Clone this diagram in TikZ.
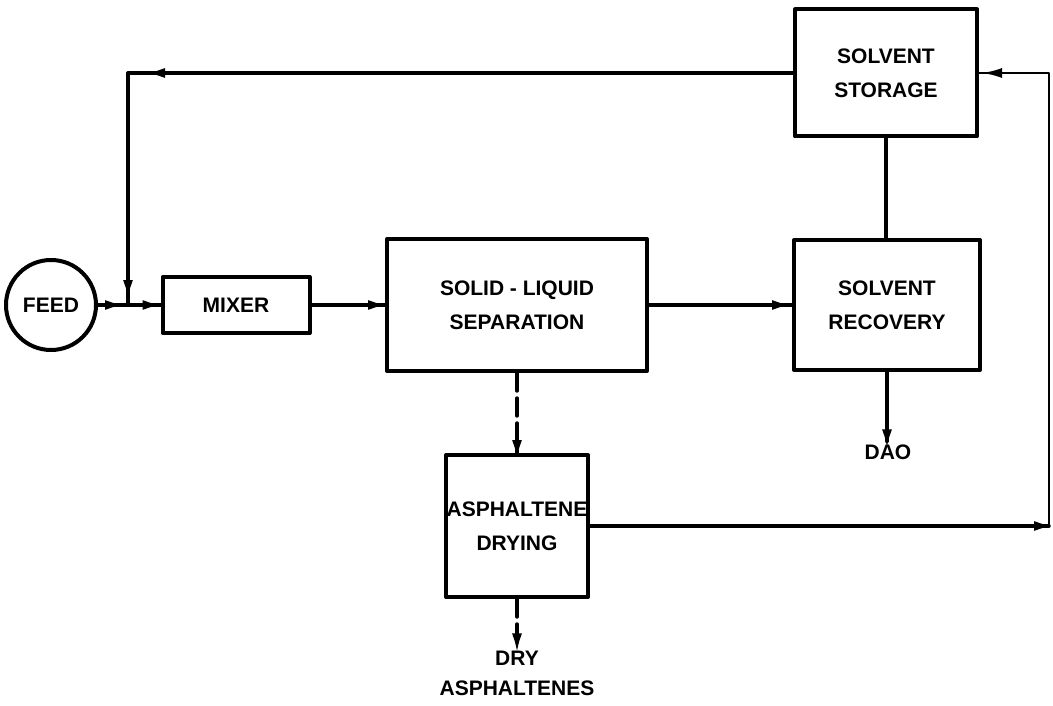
\documentclass[tikz,border=0pt]{standalone}
\usepackage{fontspec}
\setsansfont{Liberation Sans}
\usetikzlibrary{arrows.meta,decorations.markings,positioning}
\newcommand\labfont{\sffamily\bfseries\fontsize{21}{34}\selectfont}

\begin{document}
\begin{tikzpicture}[x=1pt,y=-1pt,line cap=round,line join=round,
 unit/.style={draw,line width=4pt,align=center,font=\labfont,inner sep=0pt},
 outtext/.style={font=\labfont,align=center,inner sep=3pt},
 stream/.style={line width=3.4pt},
 dashstream/.style={line width=3.4pt,dash pattern=on 18pt off 7pt},
 tipat/.style={postaction={decorate},decoration={markings,
  mark=at position #1 with {\arrow[xshift=10pt]{Latex[length=20pt,width=10pt]}}}}]
\useasboundingbox (0,0) rectangle (1053,706);
% Anlage: Zulauf links, Rueckfuehrung des Loesungsmittels oben und rechts
\node[unit,circle,minimum size=90pt] (feed) at (51,305) {FEED};
\node[unit,minimum width=147pt,minimum height=56pt] (mixer) at (236,305) {MIXER};
\node[unit,minimum width=260pt,minimum height=132pt] (sep) at (517,305) {SOLID - LIQUID\\SEPARATION};
\node[unit,minimum width=186pt,minimum height=130pt] (recovery) at (887,305) {SOLVENT\\RECOVERY};
\node[unit,minimum width=182pt,minimum height=127pt] (storage) at (886,73) {SOLVENT\\STORAGE};
\node[unit,minimum width=142pt,minimum height=142pt] (drying) at (517,526) {ASPHALTENE\\DRYING};
\node[outtext] (dao) at (888,452) {DAO};
\node[outtext] (dry) at (517,673) {DRY\\[-4pt]ASPHALTENES};
\coordinate (join) at (128,305);
\coordinate (corner) at (join |- storage.west);
\coordinate (rim) at (1049,0);
% Hauptstrom
\draw[stream,tipat=-13pt] (feed) -- (join);
\draw[stream,tipat=-8pt] (join) -- (mixer);
\draw[stream,tipat=-7pt] (mixer) -- (sep);
\draw[stream,tipat=-10pt] (sep) -- (recovery);
\draw[stream] (storage.south) -- (storage.south |- recovery.north);
\draw[stream,tipat=-2pt] (recovery.south) -- (recovery.south |- dao.north);
\draw[dashstream,tipat=-3pt] (sep.south) -- (drying.north);
\draw[dashstream,tipat=-4pt] (drying.south) -- (dry.north);
% Rueckfuehrung
\draw[stream,tipat=-27pt] (storage.west) -- (corner);
\draw[stream,tipat=-15pt] (corner) -- (join);
\draw[stream,tipat=-5pt] (drying.east) -- (drying.east -| rim);
\draw[line width=2.4pt,tipat=-13pt] (drying.east -| rim) -- (storage.east -| rim) -- (storage.east);
\end{tikzpicture}
\end{document}
